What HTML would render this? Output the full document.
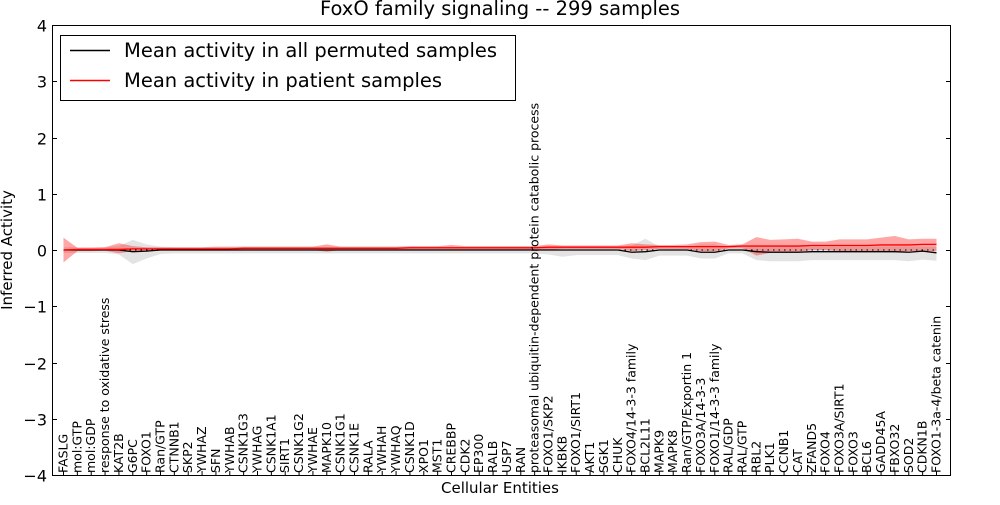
<!DOCTYPE html>
<html><head><meta charset="utf-8"><style>
body{margin:0;background:#fff;width:1000px;height:500px;overflow:hidden}
svg{font-family:"DejaVu Sans","Liberation Sans",sans-serif}
</style></head><body>
<svg id="chart" width="1000" height="500" xmlns="http://www.w3.org/2000/svg">
<text x="500" y="15" text-anchor="middle" font-size="19.5">FoxO family signaling -- 299 samples</text>
<g id="bands"></g>
<g id="lines"></g>
<rect x="52.5" y="25.5" width="898" height="450" fill="none" stroke="#000" stroke-width="1"/>
<g id="yaxis"></g>
<g id="xlabels"></g>
<text transform="translate(12,250) rotate(-90)" text-anchor="middle" font-size="15">Inferred Activity</text>
<text x="500" y="493" text-anchor="middle" font-size="15">Cellular Entities</text>
<g>
<rect x="60.5" y="35.5" width="455" height="65" fill="#fff" stroke="#000"/>
<line x1="70" y1="50.5" x2="110" y2="50.5" stroke="#000" stroke-width="1.5"/>
<text x="124" y="57" font-size="19.5">Mean activity in all permuted samples</text>
<line x1="70" y1="80.5" x2="110" y2="80.5" stroke="#f00" stroke-width="1.5"/>
<text x="124" y="87" font-size="19.5">Mean activity in patient samples</text>
</g>
</svg>
<script>
const labels=["FASLG","mol:GTP","mol:GDP","response to oxidative stress","KAT2B","G6PC","FOXO1","Ran/GTP","CTNNB1","SKP2","YWHAZ","SFN","YWHAB","CSNK1G3","YWHAG","CSNK1A1","SIRT1","CSNK1G2","YWHAE","MAPK10","CSNK1G1","CSNK1E","RALA","YWHAH","YWHAQ","CSNK1D","XPO1","MST1","CREBBP","CDK2","EP300","RALB","USP7","RAN","proteasomal ubiquitin-dependent protein catabolic process","FOXO1/SKP2","IKBKB","FOXO1/SIRT1","AKT1","SGK1","CHUK","FOXO4/14-3-3 family","BCL2L11","MAPK9","MAPK8","Ran/GTP/Exportin 1","FOXO3A/14-3-3","FOXO1/14-3-3 family","RAL/GDP","RAL/GTP","RBL2","PLK1","CCNB1","CAT","ZFAND5","FOXO4","FOXO3A/SIRT1","FOXO3","BCL6","GADD45A","FBXO32","SOD2","CDKN1B","FOXO1-3a-4/beta catenin"];
const patientMean=[0.0,0.01,0.01,0.01,0.01,0.02,0.02,0.02,0.02,0.02,0.02,0.02,0.02,0.03,0.03,0.03,0.03,0.03,0.03,0.03,0.03,0.03,0.03,0.03,0.03,0.04,0.04,0.04,0.04,0.04,0.04,0.04,0.04,0.04,0.04,0.05,0.05,0.05,0.05,0.05,0.05,0.05,0.05,0.06,0.06,0.06,0.06,0.06,0.06,0.07,0.07,0.07,0.07,0.07,0.08,0.08,0.08,0.08,0.08,0.09,0.09,0.09,0.1,0.1];
const patientHi=[0.22,0.04,0.04,0.05,0.12,0.07,0.05,0.05,0.05,0.05,0.05,0.06,0.06,0.06,0.06,0.06,0.06,0.06,0.06,0.1,0.06,0.06,0.06,0.06,0.06,0.07,0.07,0.07,0.09,0.07,0.07,0.07,0.07,0.07,0.07,0.1,0.08,0.08,0.08,0.08,0.08,0.12,0.1,0.09,0.09,0.1,0.14,0.15,0.09,0.1,0.23,0.18,0.19,0.2,0.15,0.15,0.19,0.19,0.19,0.22,0.25,0.19,0.2,0.2];
const patientLo=[-0.22,-0.02,-0.02,-0.01,-0.06,-0.02,-0.01,-0.01,-0.01,-0.01,-0.01,-0.01,-0.01,0.0,0.0,0.0,0.0,0.0,0.0,-0.03,0.0,0.0,0.0,0.0,0.0,0.01,0.01,0.01,0.0,0.01,0.01,0.01,0.01,0.01,0.01,0.0,0.02,0.02,0.02,0.02,0.02,-0.02,0.0,0.02,0.02,0.02,-0.02,-0.02,0.03,0.03,-0.1,-0.05,-0.04,-0.03,0.0,0.0,-0.02,-0.02,-0.02,-0.03,-0.04,-0.02,-0.02,-0.02];
const permMean=[0.0,0.0,0.0,0.0,0.0,-0.03,-0.02,0.0,0.0,0.0,0.0,0.0,0.0,0.0,0.0,0.0,0.0,0.0,0.0,0.0,0.0,0.0,0.0,0.0,0.0,0.0,0.0,0.0,0.0,0.0,0.0,0.0,0.0,0.0,0.0,0.0,0.0,0.0,0.0,0.0,0.0,-0.04,-0.03,0.0,0.0,0.0,-0.04,-0.04,0.0,0.0,-0.03,-0.04,-0.04,-0.04,-0.03,-0.03,-0.03,-0.03,-0.03,-0.03,-0.03,-0.04,-0.02,-0.05];
const permHi=[0.05,0.05,0.05,0.05,0.07,0.18,0.1,0.06,0.05,0.05,0.05,0.05,0.05,0.05,0.05,0.05,0.05,0.05,0.05,0.05,0.05,0.05,0.05,0.05,0.05,0.05,0.05,0.05,0.05,0.05,0.05,0.05,0.05,0.05,0.05,0.05,0.05,0.05,0.05,0.05,0.05,0.08,0.2,0.06,0.06,0.06,0.1,0.1,0.05,0.05,0.06,0.06,0.06,0.06,0.06,0.06,0.06,0.06,0.06,0.06,0.06,0.06,0.06,0.06];
const permLo=[-0.05,-0.05,-0.05,-0.05,-0.08,-0.25,-0.15,-0.07,-0.06,-0.06,-0.06,-0.06,-0.06,-0.06,-0.06,-0.06,-0.06,-0.06,-0.06,-0.06,-0.06,-0.06,-0.06,-0.06,-0.06,-0.06,-0.06,-0.06,-0.06,-0.06,-0.06,-0.06,-0.06,-0.06,-0.06,-0.08,-0.12,-0.09,-0.09,-0.09,-0.09,-0.15,-0.18,-0.1,-0.1,-0.1,-0.15,-0.15,-0.06,-0.06,-0.18,-0.2,-0.2,-0.2,-0.18,-0.18,-0.18,-0.18,-0.18,-0.18,-0.18,-0.2,-0.17,-0.19];
const yTicks=[-4,-3,-2,-1,0,1,2,3,4];

const NS="http://www.w3.org/2000/svg";
const X=i=>63.5+i*(873/(labels.length-1));
const Y=v=>250-v*56.25;
function mk(tag,attrs,parent){const e=document.createElementNS(NS,tag);for(const k in attrs)e.setAttribute(k,attrs[k]);parent.appendChild(e);return e;}
const bands=document.getElementById('bands'),lines=document.getElementById('lines'),ya=document.getElementById('yaxis'),xl=document.getElementById('xlabels');
function band(hi,lo,fill,op,name){
 let d=hi.map((v,i)=>(i?'L':'M')+X(i)+','+Y(v)).join('');
 for(let i=lo.length-1;i>=0;i--)d+='L'+X(i)+','+Y(lo[i]);
 const p=mk('path',{d:d+'Z',fill:fill,'fill-opacity':op},bands);
 
 
}
band(permHi,permLo,'#b0b0b0',0.35,'permuted-band');
band(patientHi,patientLo,'#ff0000',0.35,'patient-band');
const z=mk('line',{x1:X(0),x2:X(labels.length-1),y1:Y(0),y2:Y(0),stroke:'#000','stroke-dasharray':'1.5,4'},lines);


function line(arr,col,name){
 const p=mk('path',{d:arr.map((v,i)=>(i?'L':'M')+X(i)+','+Y(v)).join(''),fill:'none',stroke:col,'stroke-width':1.3},lines);
 
 
}
line(permMean,'#000','permuted-mean-line');
line(patientMean,'#f00','patient-mean-line');
yTicks.forEach(t=>{
 const y=Math.round(Y(t))+0.5;
 mk('line',{x1:52,x2:57,y1:y,y2:y,stroke:'#000'},ya);
 mk('line',{x1:946,x2:951,y1:y,y2:y,stroke:'#000'},ya);
 const tx=mk('text',{x:47,y:y+6,'text-anchor':'end','font-size':16},ya);
 tx.textContent=(t<0?'\u2212'+(-t):t);
 
 
});
labels.forEach((l,i)=>{
 const x=X(i);
 mk('line',{x1:x,x2:x,y1:475,y2:471,stroke:'#000'},ya);
 const t=mk('text',{transform:`translate(${x+4},473) rotate(-90)`,'font-size':12.5},xl);
 t.textContent=l;
 
 
});
</script>
</body></html>
